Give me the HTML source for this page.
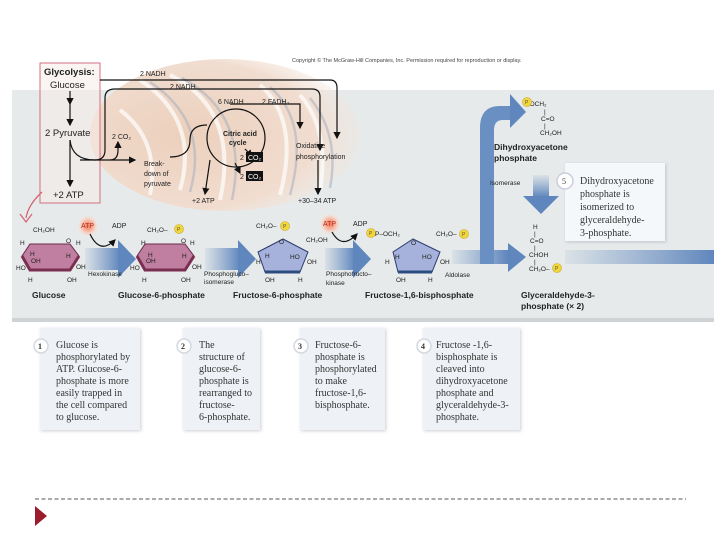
<!DOCTYPE html>
<html><head><meta charset="utf-8"><style>
html,body{margin:0;padding:0;background:#fff;}
svg{display:block;font-family:"Liberation Sans",sans-serif;}
.s{font-size:7px;fill:#222}
.m{font-size:8.5px;fill:#222}
.b{font-size:9px;font-weight:bold;fill:#222}
.t{font-family:"Liberation Serif",serif;font-size:10px;fill:#333}
</style></head><body>
<svg width="720" height="540" viewBox="0 0 720 540">
<defs>
<radialGradient id="atp"><stop offset="0" stop-color="#f47a5a"/><stop offset="0.5" stop-color="#f9b9a4"/><stop offset="1" stop-color="#fde6dc" stop-opacity="0"/></radialGradient>
<linearGradient id="ar" x1="0" x2="1"><stop offset="0" stop-color="#6f93c4" stop-opacity="0.1"/><stop offset="1" stop-color="#5f86bd"/></linearGradient>
<linearGradient id="ard" x1="0" y1="0" x2="0" y2="1"><stop offset="0" stop-color="#6f93c4" stop-opacity="0.1"/><stop offset="1" stop-color="#5f86bd"/></linearGradient>
<linearGradient id="arr" x1="0" x2="1"><stop offset="0" stop-color="#6f93c4" stop-opacity="0.1"/><stop offset="1" stop-color="#5f86bd"/></linearGradient>
<radialGradient id="mito" cx="0.35" cy="0.5" r="0.7"><stop offset="0" stop-color="#ecd0bc"/><stop offset="0.7" stop-color="#f1ddd0"/><stop offset="1" stop-color="#f5e8de" stop-opacity="0"/></radialGradient>
<marker id="ah" markerWidth="6" markerHeight="6" refX="5" refY="3" orient="auto"><path d="M0,0 L6,3 L0,6 z" fill="#111"/></marker>
<filter id="sh"><feDropShadow dx="1" dy="1" stdDeviation="1.5" flood-color="#99a" flood-opacity="0.5"/></filter>
</defs>
<rect x="12" y="90" width="702" height="230" fill="#e6eaea"/>
<rect x="12" y="318" width="702" height="4" fill="#cfd3d6"/>
<text x="292" y="62" style="font-size:5.5px;fill:#444">Copyright © The McGraw-Hill Companies, Inc. Permission required for reproduction or display.</text>
<ellipse cx="225" cy="135" rx="135" ry="76" fill="url(#mito)"/>
<g fill="none" stroke="#fff" stroke-width="4" opacity="0.7">
<path d="M140,80 Q200,120 180,190"/><path d="M170,75 Q240,110 220,200"/><path d="M260,85 Q300,120 280,195"/><path d="M300,95 Q330,130 320,190"/><path d="M120,110 Q160,140 150,195"/>
</g>
<g fill="none" stroke="#a8b0c0" stroke-width="2.5" opacity="0.55">
<path d="M150,82 Q210,122 190,192"/><path d="M270,87 Q310,122 290,195"/><path d="M182,78 Q250,115 232,200"/><path d="M310,98 Q340,135 330,188"/>
</g>
<rect x="40" y="63" width="60" height="140" fill="#f6ece8" fill-opacity="0.5" stroke="#d47080" stroke-width="1"/>
<text x="44" y="75" class="b" style="font-size:9.5px">Glycolysis:</text>
<text x="50" y="88" class="m" style="font-size:9.5px">Glucose</text>
<text x="45" y="136" class="m" style="font-size:9.5px">2 Pyruvate</text>
<text x="53" y="198" class="m" style="font-size:9.5px">+2 ATP</text>
<g stroke="#111" stroke-width="1.2" fill="none">
<line x1="70" y1="91" x2="70" y2="104" marker-end="url(#ah)"/>
<line x1="70" y1="104" x2="70" y2="125" marker-end="url(#ah)"/>
<line x1="70" y1="140" x2="70" y2="186" marker-end="url(#ah)"/>
<path d="M100,80 H330 Q337,80 337,88 V138" marker-end="url(#ah)"/>
<path d="M70,140 Q72,160 95,160 Q105,160 105,150 V98 Q105,89 115,89 H312 Q320,89 320,97 V150" marker-end="url(#ah)"/>
<path d="M80,160 H135" marker-end="url(#ah)"/>
<path d="M110,160 Q118,160 118,150 V142" marker-end="url(#ah)"/>
<path d="M170,157 Q190,157 190,140 Q190,125 207,125"/>
<circle cx="236" cy="138" r="29"/>
<path d="M230,104 H300 V128" marker-end="url(#ah)"/>
<line x1="245" y1="149" x2="252" y2="156" marker-end="url(#ah)"/>
<line x1="235" y1="163" x2="240" y2="173" marker-end="url(#ah)"/>
<line x1="210" y1="160" x2="205" y2="194" marker-end="url(#ah)"/>
<line x1="318" y1="160" x2="318" y2="194" marker-end="url(#ah)"/>
</g>
<text x="140" y="76" class="s">2 NADH</text>
<text x="170" y="89" class="s">2 NADH</text>
<text x="218" y="104" class="s">6 NADH</text>
<text x="262" y="104" class="s">2 FADH₂</text>
<text x="112" y="139" class="s">2 CO₂</text>
<text x="144" y="166" class="s">Break-</text><text x="144" y="176" class="s">down of</text><text x="144" y="186" class="s">pyruvate</text>
<text x="223" y="136" class="s" style="font-weight:bold">Citric acid</text><text x="229" y="145" class="s" style="font-weight:bold">cycle</text>
<text x="240" y="160" class="s">2</text><rect x="246" y="152" width="17" height="10" fill="#111"/><text x="248" y="160" class="s" style="fill:#fff">CO₂</text>
<text x="240" y="179" class="s">2</text><rect x="246" y="171" width="17" height="10" fill="#111"/><text x="248" y="179" class="s" style="fill:#fff">CO₂</text>
<text x="296" y="148" class="s">Oxidative</text><text x="296" y="159" class="s">phosphorylation</text>
<text x="192" y="203" class="s">+2 ATP</text>
<text x="298" y="203" class="s">+30–34 ATP</text>
<path d="M42,192 Q28,205 26,218" stroke="#d46070" stroke-width="1.2" fill="none"/>
<path d="M20,214 L26,222 L32,214" stroke="#d46070" stroke-width="1.2" fill="none"/>
<g>
<rect x="85" y="248" width="35" height="22" fill="url(#ar)"/><path d="M118,240 L136,259 L118,278z" fill="#5f86bd"/>
<rect x="205" y="248" width="35" height="22" fill="url(#ar)"/><path d="M238,240 L256,259 L238,278z" fill="#5f86bd"/>
<rect x="325" y="248" width="30" height="22" fill="url(#ar)"/><path d="M353,240 L371,259 L353,278z" fill="#5f86bd"/>
<path d="M452,250 H508 V264 H452z" fill="url(#ar)"/><path d="M508,243 L526,257 L508,272z" fill="#5f86bd"/>
<path d="M480,264 V128 Q480,106 500,106 H512 V120 H503 Q494,120 494,130 V264z" fill="#6a8fc2"/>
<path d="M510,94 L526,112 L510,128z" fill="#5f86bd"/>
<rect x="533" y="175" width="16" height="22" fill="url(#ard)"/><path d="M523,196 L541,214 L559,196z" fill="#5f86bd"/>
<rect x="565" y="250" width="149" height="14" fill="url(#arr)"/>
</g>
<circle cx="88" cy="226" r="11" fill="url(#atp)"/><text x="81" y="228" class="s" style="fill:#b03020">ATP</text>
<circle cx="330" cy="224" r="11" fill="url(#atp)"/><text x="323" y="226" class="s" style="fill:#b03020">ATP</text>
<g stroke="#111" stroke-width="1.2" fill="none">
<path d="M90,234 Q100,255 115,240" marker-end="url(#ah)"/>
<path d="M332,232 Q342,250 357,234" marker-end="url(#ah)"/>
</g>
<text x="112" y="228" class="s">ADP</text><text x="353" y="226" class="s">ADP</text>
<path d="M30,244 H70 L79,256 L70,270 H30 L22,256z" fill="#c07fa0" stroke="#6a2c4c"/>
<path d="M22,256 L30,270 H70 L79,256" fill="none" stroke="#7a2e50" stroke-width="3"/>
<path d="M145,244 H185 L194,256 L185,270 H145 L137,256z" fill="#c07fa0" stroke="#6a2c4c"/>
<path d="M137,256 L145,270 H185 L194,256" fill="none" stroke="#7a2e50" stroke-width="3"/>
<path d="M258,252 L283,239 L308,252 L300,272 H265z" fill="#a6b2dc" stroke="#2c3c70"/>
<path d="M265,272 H300" stroke="#2c4c80" stroke-width="3"/>
<path d="M393,252 L413,239 L440,252 L432,272 H398z" fill="#a6b2dc" stroke="#2c3c70"/>
<path d="M398,272 H432" stroke="#2c4c80" stroke-width="3"/>
<g class="s" style="font-size:6.5px">
<text x="33" y="232">CH₂OH</text><text x="20" y="245">H</text><text x="66" y="243">O</text><text x="76" y="245">H</text>
<text x="30" y="256">H</text><text x="31" y="263">OH</text><text x="66" y="258">H</text><text x="16" y="270">HO</text><text x="76" y="269">OH</text>
<text x="28" y="282">H</text><text x="67" y="282">OH</text>
<text x="147" y="232">CH₂O–</text><text x="141" y="245">H</text><text x="181" y="243">O</text><text x="190" y="245">H</text>
<text x="148" y="257">H</text><text x="146" y="263">OH</text><text x="182" y="258">H</text><text x="130" y="270">HO</text><text x="192" y="269">OH</text>
<text x="142" y="282">H</text><text x="181" y="282">OH</text>
<text x="256" y="228">CH₂O–</text><text x="306" y="242">CH₂OH</text><text x="279" y="244">O</text>
<text x="256" y="264">H</text><text x="265" y="258">H</text><text x="290" y="259">HO</text><text x="307" y="264">OH</text>
<text x="265" y="282">OH</text><text x="298" y="282">H</text>
<text x="375" y="236">P–OCH₂</text><text x="436" y="236">CH₂O–</text><text x="411" y="245">O</text>
<text x="385" y="264">H</text><text x="395" y="259">H</text><text x="422" y="259">HO</text><text x="440" y="264">OH</text>
<text x="396" y="282">OH</text><text x="428" y="282">H</text>
<text x="526" y="106">–OCH₂</text><text x="544" y="114">|</text><text x="541" y="121">C=O</text><text x="544" y="128">|</text><text x="540" y="135">CH₂OH</text>
<text x="533" y="229">H</text><text x="534" y="236">|</text><text x="530" y="243">C=O</text><text x="534" y="250">|</text><text x="529" y="257">CHOH</text><text x="534" y="264">|</text><text x="529" y="271">CH₂O–</text>
</g>
<g fill="#f2d640" stroke="#c9a820" stroke-width="0.6">
<circle cx="179" cy="229" r="4.5"/><circle cx="285" cy="226" r="4.5"/><circle cx="371" cy="233" r="4.5"/><circle cx="464" cy="234" r="4.5"/><circle cx="527" cy="102" r="4.5"/><circle cx="557" cy="268" r="4.5"/>
</g>
<g class="s" style="font-size:5px;fill:#553"><text x="177" y="231">P</text><text x="283" y="228">P</text><text x="369" y="235">P</text><text x="462" y="236">P</text><text x="525" y="104">P</text><text x="555" y="270">P</text></g>
<g class="s" style="font-size:6.5px">
<text x="88" y="276">Hexokinase</text>
<text x="204" y="276">Phosphogluco–</text><text x="204" y="284">isomerase</text>
<text x="326" y="276">Phosphofructo–</text><text x="326" y="285">kinase</text>
<text x="445" y="277">Aldolase</text>
<text x="490" y="185">Isomerase</text>
</g>
<g class="b" style="font-size:8.5px">
<text x="32" y="298">Glucose</text>
<text x="118" y="298">Glucose-6-phosphate</text>
<text x="233" y="298">Fructose-6-phosphate</text>
<text x="365" y="298">Fructose-1,6-bisphosphate</text>
<text x="521" y="298">Glyceraldehyde-3-</text>
<text x="521" y="309">phosphate (× 2)</text>
<text x="494" y="150">Dihydroxyacetone</text>
<text x="494" y="161">phosphate</text>
</g>
<rect x="565" y="163" width="100" height="78" fill="#f5f8fa" filter="url(#sh)"/>
<circle cx="565" cy="181" r="8" fill="#fff" stroke="#ccd" stroke-width="1.5"/><text x="562" y="184" class="t" style="font-size:8px">5</text>
<g class="t"><text x="580" y="184">Dihydroxyacetone</text><text x="580" y="197">phosphate is</text><text x="580" y="210">isomerized to</text><text x="580" y="223">glyceraldehyde-</text><text x="580" y="236">3-phosphate.</text></g>
<g filter="url(#sh)" fill="#eef2f6">
<rect x="40" y="328" width="100" height="102"/><rect x="183" y="328" width="77" height="102"/><rect x="300" y="328" width="85" height="102"/><rect x="423" y="328" width="97" height="102"/>
</g>
<g fill="#fff" stroke="#d4d8e0" stroke-width="1.5"><circle cx="41" cy="346" r="7"/><circle cx="184" cy="346" r="7"/><circle cx="301" cy="346" r="7"/><circle cx="424" cy="346" r="7"/></g>
<g class="t" style="font-size:8px;font-weight:bold"><text x="38" y="349">1</text><text x="181" y="349">2</text><text x="298" y="349">3</text><text x="421" y="349">4</text></g>
<g class="t">
<text x="56" y="348">Glucose is</text><text x="56" y="360">phosphorylated by</text><text x="56" y="372">ATP. Glucose-6-</text><text x="56" y="384">phosphate is more</text><text x="56" y="396">easily trapped in</text><text x="56" y="408">the cell compared</text><text x="56" y="420">to glucose.</text>
<text x="199" y="348">The</text><text x="199" y="360">structure of</text><text x="199" y="372">glucose-6-</text><text x="199" y="384">phosphate is</text><text x="199" y="396">rearranged to</text><text x="199" y="408">fructose-</text><text x="199" y="420">6-phosphate.</text>
<text x="315" y="348">Fructose-6-</text><text x="315" y="360">phosphate is</text><text x="315" y="372">phosphorylated</text><text x="315" y="384">to make</text><text x="315" y="396">fructose-1,6-</text><text x="315" y="408">bisphosphate.</text>
<text x="436" y="348">Fructose -1,6-</text><text x="436" y="360">bisphosphate is</text><text x="436" y="372">cleaved into</text><text x="436" y="384">dihydroxyacetone</text><text x="436" y="396">phosphate and</text><text x="436" y="408">glyceraldehyde-3-</text><text x="436" y="420">phosphate.</text>
</g>
<line x1="35" y1="499" x2="686" y2="499" stroke="#555" stroke-width="1" stroke-dasharray="4,2.5"/>
<path d="M35,506 L47,516 L35,526z" fill="#9b1c2c"/>
</svg>
</body></html>
